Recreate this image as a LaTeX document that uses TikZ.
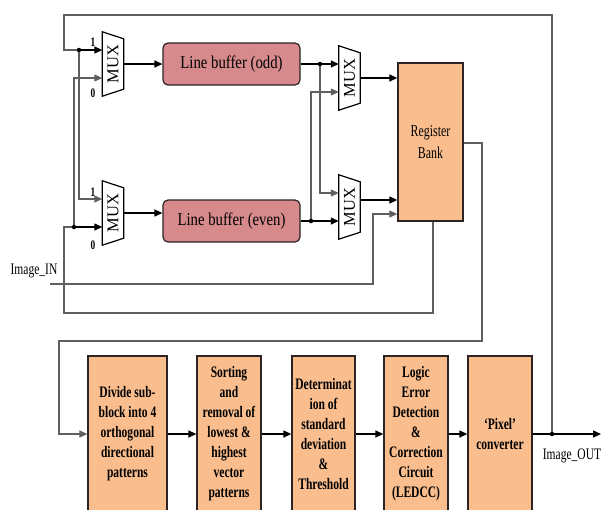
\documentclass[tikz,border=0pt]{standalone}
\usepackage{fontspec}
\setmainfont[FakeStretch=0.72]{Liberation Serif}
\newfontfamily\lbfont[FakeStretch=0.82]{Liberation Serif}
\newfontfamily\muxfont{Liberation Serif}
\usetikzlibrary{arrows.meta,calc}
\definecolor{lbfill}{RGB}{214,138,140}
\definecolor{bkfill}{RGB}{250,190,142}
\definecolor{edge}{RGB}{45,35,35}
\definecolor{wire}{RGB}{95,95,95}
\begin{document}
\begin{tikzpicture}[x=1pt,y=-1pt,
  wireb/.style={line width=1.3pt,black},
  wireg/.style={line width=1.1pt,wire},
  arr/.style={-{Triangle[length=8pt,width=7pt]}},
  lbuf/.style={draw=edge,line width=1.2pt,fill=lbfill,rounded corners=5pt,minimum width=137pt,minimum height=42pt,inner sep=0pt,font=\lbfont\fontsize{18}{20}\selectfont},
  blk/.style={draw=edge,line width=1.3pt,fill=bkfill,inner sep=0pt,align=center,minimum height=156pt,font=\bfseries\fontsize{16}{20}\selectfont},
  muxn/.style={minimum width=21pt,minimum height=64pt,inner sep=0pt},
  muxl/.style={draw=black,line width=1.2pt,fill=white},
  muxt/.style={rotate=90,font=\muxfont\fontsize{16.5}{16.5}\selectfont,inner sep=0pt},
  sel/.style={font=\bfseries\fontsize{13}{13}\selectfont,inner sep=0pt},
  dot/.style={circle,fill=black,inner sep=0pt,minimum size=4.5pt},
  lbl/.style={font=\fontsize{16}{16}\selectfont,inner sep=0pt}
]
\useasboundingbox (0,0) rectangle (602,509);
\fill[white] (0,0) rectangle (602,509);

% multiplexers
\node[muxn] (m1) at (113,64) {};
\node[muxn] (m2) at (113,213) {};
\node[muxn] (m3) at (349.5,78) {};
\node[muxn] (m4) at (349.5,207) {};
\foreach \m in {m1,m2,m3,m4}
  \draw[muxl] (\m.north west) -- ([yshift=-7pt]\m.north east) -- ([yshift=7pt]\m.south east) -- (\m.south west) -- cycle;
\node[muxt] (m1t) at (m1) {MUX};
\node[muxt] (m2t) at (m2) {MUX};
\node[muxt] (m3t) at (m3) {MUX};
\node[muxt] (m4t) at (m4) {MUX};
\node[sel] (s1) at (93,42) {1};
\node[sel] (s0) at (93,93) {0};
\node[sel] (s3) at (93,192) {1};
\node[sel] (s2) at (93,245) {0};

% buffers and register bank
\node[lbuf] (lb1) at (231.5,64) {Line buffer (odd)};
\node[lbuf] (lb2) at (231.5,221) {Line buffer (even)};
\node[draw=edge,line width=1.3pt,fill=bkfill,minimum width=65pt,minimum height=158pt,inner sep=0pt,align=center,font=\fontsize{16.5}{22}\selectfont] (rb) at (430.5,142) {Register\\Bank};

% processing blocks
\node[blk,minimum width=79pt] (b1) at (127.5,434) {Divide sub-\\block into 4\\orthogonal\\directional\\patterns};
\node[blk,minimum width=64pt] (b2) at (229,434) {Sorting\\and\\removal of\\lowest \&\\highest\\vector\\patterns};
\node[blk,minimum width=63pt] (b3) at (323.5,434) {Determinat\\ion of\\standard\\deviation\\\&\\Threshold};
\node[blk,minimum width=64pt] (b4) at (416,434) {Logic\\Error\\Detection\\\&\\Correction\\Circuit\\(LEDCC)};
\node[blk,minimum width=64pt] (b5) at (500,434) {‘Pixel’\\converter};

% junctions
\coordinate (d1) at (79,50);
\coordinate (d2) at (74,227);
\coordinate (d3) at (320,64);
\coordinate (d4) at (311,221);
\coordinate (dout) at (552,434);
\coordinate (in) at (50,284);
\coordinate (out) at (601,434);

% top feedback
\draw[wireg] (dout) -- (552,15) -- (64,15) -- (64,50) -- (d1);
\draw[wireb,arr] (d1) -- ([yshift=14pt]m1.west);
\draw[wireg,arr] (d1) |- ([yshift=14pt]m2.west);
% register bank feedback
\draw[wireg] ([xshift=2.5pt]rb.south) |- (64,313) -- (64,227) -- (d2);
\draw[wireb,arr] (d2) -- ([yshift=-14pt]m2.west);
\draw[wireg,arr] (d2) |- ([yshift=-14pt]m1.west);
% mux outputs to buffers
\draw[wireb,arr] (m1.east) -- (lb1.west);
\draw[wireb,arr] (m2.east) -- (m2.east -| lb2.west);
% buffers to output muxes
\draw[wireb] (lb1.east) -- (d3);
\draw[wireb,arr] (d3) -- ([yshift=14pt]m3.west);
\draw[wireg,arr] (d3) |- ([yshift=14pt]m4.west);
\draw[wireb] (lb2.east) -- (d4);
\draw[wireb,arr] (d4) -- ([yshift=-14pt]m4.west);
\draw[wireg,arr] (d4) |- ([yshift=-14pt]m3.west);
% to register bank
\draw[wireb,arr] (m3.east) -- (m3.east -| rb.west);
\draw[wireb,arr] ([yshift=7pt]m4.east) -- ([yshift=7pt]m4.east -| rb.west);
\node[lbl] (inl) at (34,271) {Image\_IN};
\draw[wireg,arr] (in) -- (373,284) |- ([yshift=-72pt]rb.west);
% register bank to processing chain
\draw[wireg,arr] ([yshift=-1pt]rb.east) -- (482,143) -- (482,341) -- (59,341) |- (b1.west);
\draw[wireb,arr] (b1.east) -- (b2.west);
\draw[wireb,arr] (b2.east) -- (b3.west);
\draw[wireb,arr] (b3.east) -- (b4.west);
\draw[wireb,arr] (b4.east) -- (b5.west);
\draw[wireb] (b5.east) -- (dout);
\draw[wireb,arr] (dout) -- (out);
\node[lbl] (outl) at (572,456) {Image\_OUT};

% junction dots
\node[dot] (d1n) at (d1) {};
\node[dot] (d2n) at (d2) {};
\node[dot] (d3n) at (d3) {};
\node[dot] (d4n) at (d4) {};
\node[dot] (doutn) at (dout) {};
\end{tikzpicture}
\end{document}
